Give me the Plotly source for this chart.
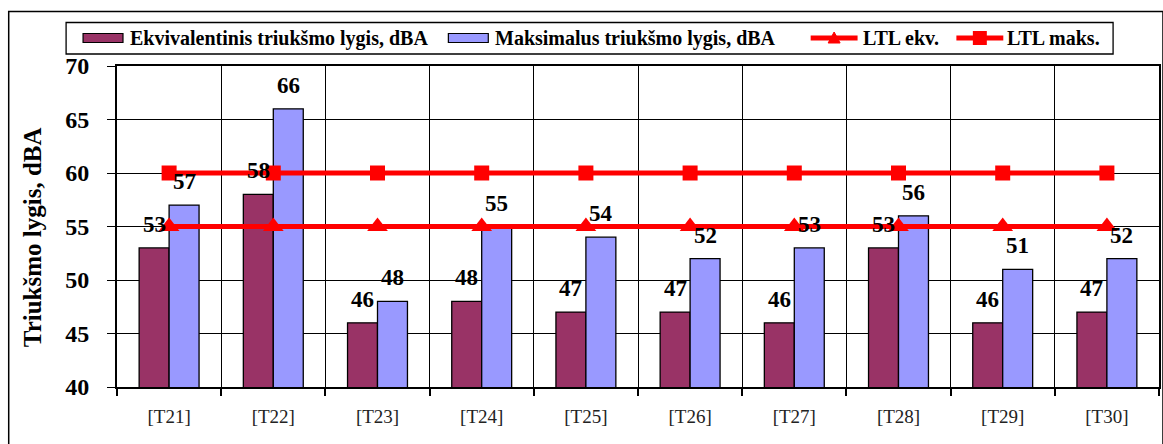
import plotly.graph_objects as go

# Measurement points and noise levels (dBA)
points = ["[T21]", "[T22]", "[T23]", "[T24]", "[T25]", "[T26]", "[T27]", "[T28]", "[T29]", "[T30]"]
equivalent = [53, 58, 46, 48, 47, 47, 46, 53, 46, 47]
maximum = [57, 66, 48, 55, 54, 52, 53, 56, 51, 52]
limit_equivalent = [55] * len(points)
limit_maximum = [60] * len(points)

series_names = ["Ekvivalentinis triukšmo lygis, dBA", "Maksimalus triukšmo lygis, dBA",
                "LTL ekv.", "LTL maks."]
y_title = "Triukšmo lygis, dBA"

PURPLE = "#993366"
BLUE = "#9999FF"
RED = "#FF0000"
FONT = "Liberation Serif"

W, H = 1163, 444
ML, MR, MT, MB = 117, 2, 66, 57
PW, PH = W - ML - MR, H - MT - MB


def px(x):
    return (x - ML) / PW


def py(y):
    return (H - MB - y) / PH


fig = go.Figure()
fig.add_trace(go.Bar(x=points, y=equivalent, name=series_names[0], marker_color=PURPLE,
                     marker_line=dict(color="black", width=1.3), showlegend=False))
fig.add_trace(go.Bar(x=points, y=maximum, name=series_names[1], marker_color=BLUE,
                     marker_line=dict(color="black", width=1.3), showlegend=False))
fig.add_trace(go.Scatter(x=points, y=limit_equivalent, name=series_names[2], mode="lines+markers",
                         line=dict(color=RED, width=5),
                         marker=dict(symbol="triangle-up", size=18, color=RED), showlegend=False))
fig.add_trace(go.Scatter(x=points, y=limit_maximum, name=series_names[3], mode="lines+markers",
                         line=dict(color=RED, width=5),
                         marker=dict(symbol="square", size=15, color=RED), showlegend=False))

# Value labels above each bar
annotations = []
for cat, a, b in zip(points, equivalent, maximum):
    for val, shift in ((a, -15), (b, 15)):
        annotations.append(dict(x=cat, y=val, xref="x", yref="y", text=str(val), showarrow=False,
                                xshift=shift, yshift=9, yanchor="bottom",
                                font=dict(family=FONT, size=23, color="black", weight="bold")))

# Vertical axis title
annotations.append(dict(x=px(33), y=py(237), xref="paper", yref="paper", text=y_title,
                        showarrow=False, textangle=-90, xanchor="center", yanchor="middle",
                        font=dict(family=FONT, size=25, color="black", weight="bold")))

shapes = []
# Outer chart border
shapes.append(dict(type="rect", xref="paper", yref="paper", x0=px(8.5), x1=px(1165),
                   y0=py(447), y1=py(11.5), line=dict(color="black", width=1.5),
                   fillcolor="rgba(0,0,0,0)", layer="above"))
# Legend frame
shapes.append(dict(type="rect", xref="paper", yref="paper", x0=px(66), x1=px(1115),
                   y0=py(54), y1=py(22.5), line=dict(color="black", width=1.3),
                   fillcolor="white", layer="above"))
ly = 38
# Bar swatches
for x0, color in ((83, PURPLE), (449, BLUE)):
    shapes.append(dict(type="rect", xref="paper", yref="paper", x0=px(x0), x1=px(x0 + 40),
                       y0=py(ly + 4.5), y1=py(ly - 4.5), line=dict(color="black", width=1.2),
                       fillcolor=color, layer="above"))
# Line swatches
for x0 in (812, 958):
    shapes.append(dict(type="line", xref="paper", yref="paper", x0=px(x0), x1=px(x0 + 47),
                       y0=py(ly), y1=py(ly), line=dict(color=RED, width=5), layer="above"))
cx = 835.5
shapes.append(dict(type="path", xref="paper", yref="paper",
                   path=f"M {px(cx - 6)} {py(ly + 5)} L {px(cx + 6)} {py(ly + 5)} L {px(cx)} {py(ly - 6)} Z",
                   fillcolor=RED, line=dict(color=RED, width=1), layer="above"))
cx = 981.5
shapes.append(dict(type="rect", xref="paper", yref="paper", x0=px(cx - 7), x1=px(cx + 7),
                   y0=py(ly + 7), y1=py(ly - 7), fillcolor=RED, line=dict(color=RED, width=0),
                   layer="above"))

for x0, label in ((128, series_names[0]), (494, series_names[1]), (862, series_names[2]),
                  (1007, series_names[3])):
    annotations.append(dict(x=px(x0), y=py(ly), xref="paper", yref="paper", text=label,
                            showarrow=False, xanchor="left", yanchor="middle",
                            font=dict(family=FONT, size=20, color="black", weight="bold")))

fig.update_layout(
    width=W, height=H,
    margin=dict(l=ML, r=MR, t=MT, b=MB),
    paper_bgcolor="white", plot_bgcolor="white",
    barmode="group", bargap=0.425, bargroupgap=0,
    showlegend=False,
    annotations=annotations, shapes=shapes,
    xaxis=dict(type="category", tickson="boundaries", showgrid=True, gridcolor="black",
               gridwidth=1, ticks="outside", ticklen=7, tickcolor="black", tickwidth=1.5,
               showline=True, linecolor="black", linewidth=2, mirror=True,
               ticklabelstandoff=11,
               tickfont=dict(family=FONT, size=19, color="#222222"), range=[-0.5, 9.5]),
    yaxis=dict(range=[40, 70], dtick=5, showgrid=True, gridcolor="black", gridwidth=1,
               ticks="outside", ticklen=8, tickcolor="black", tickwidth=1.3,
               showline=True, linecolor="black", linewidth=2, mirror=True,
               ticklabelstandoff=13, zeroline=False,
               tickfont=dict(family=FONT, size=24, color="black", weight="bold")),
)

fig.write_html("out.html")
